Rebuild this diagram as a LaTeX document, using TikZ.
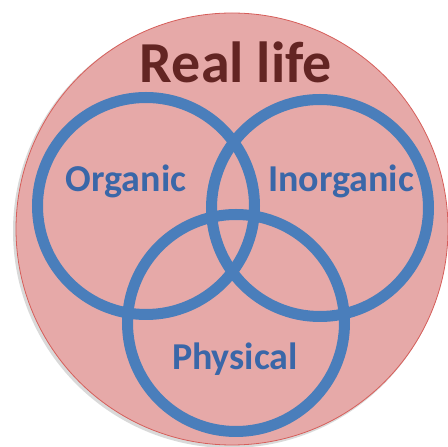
\documentclass[tikz,border=0pt]{standalone}
\usepackage{fontspec}
\setmainfont{Carlito}
\definecolor{lifefill}{HTML}{E6A9A8}
\definecolor{lifeedge}{HTML}{D65E5A}
\definecolor{lifetext}{HTML}{632523}
\definecolor{ringblue}{HTML}{4A7EBB}
\definecolor{labelblue}{HTML}{3A67A8}
\tikzset{
  ring/.style={draw=ringblue,line width=11pt},
  setlabel/.style={anchor=base,text=labelblue,font=\fontsize{38}{40}\selectfont\bfseries}
}
\begin{document}
\begin{tikzpicture}[x=1pt,y=1pt]
  \useasboundingbox (0,0) rectangle (448,447);
  % real life
  \fill[black,opacity=.15] (230,216) circle[radius=217];
  \draw[lifeedge,fill=lifefill,line width=.8pt] (232,218) circle[radius=216];
  \node[anchor=base,text=lifetext,font=\fontsize{58}{60}\selectfont\bfseries]
    (life) at (236,364) {Real life};
  % the three sets, physical lies under the others
  \foreach \cx/\cy in {236/124,146/241,320/239}{
    \draw[ring] (\cx,\cy) circle[radius=108.5];
  }
  \node[setlabel] (organic) at (126,255) {Organic};
  \node[setlabel] (inorganic) at (341,255) {Inorganic};
  \node[setlabel] (physical) at (235,77) {Physical};
\end{tikzpicture}
\end{document}
